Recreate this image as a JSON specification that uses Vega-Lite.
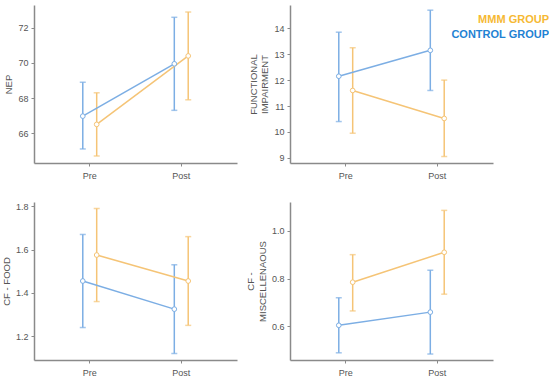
{
  "$schema": "https://vega.github.io/schema/vega-lite/v6.json",
  "padding": {"left": 1, "top": 5, "right": 0, "bottom": 0},
  "background": "white",
  "datasets": {
    "nep": [
      {"time": "Pre", "group": "CONTROL GROUP", "mean": 66.97, "lo": 65.1, "hi": 68.9},
      {"time": "Post", "group": "CONTROL GROUP", "mean": 69.95, "lo": 67.3, "hi": 72.6},
      {"time": "Pre", "group": "MMM GROUP", "mean": 66.5, "lo": 64.7, "hi": 68.3},
      {"time": "Post", "group": "MMM GROUP", "mean": 70.4, "lo": 67.9, "hi": 72.9}
    ],
    "fi": [
      {"time": "Pre", "group": "CONTROL GROUP", "mean": 12.15, "lo": 10.4, "hi": 13.85},
      {"time": "Post", "group": "CONTROL GROUP", "mean": 13.15, "lo": 11.6, "hi": 14.7},
      {"time": "Pre", "group": "MMM GROUP", "mean": 11.6, "lo": 9.95, "hi": 13.25},
      {"time": "Post", "group": "MMM GROUP", "mean": 10.52, "lo": 9.05, "hi": 12.0}
    ],
    "food": [
      {"time": "Pre", "group": "CONTROL GROUP", "mean": 1.455, "lo": 1.24, "hi": 1.67},
      {"time": "Post", "group": "CONTROL GROUP", "mean": 1.325, "lo": 1.12, "hi": 1.53},
      {"time": "Pre", "group": "MMM GROUP", "mean": 1.575, "lo": 1.36, "hi": 1.79},
      {"time": "Post", "group": "MMM GROUP", "mean": 1.455, "lo": 1.25, "hi": 1.66}
    ],
    "misc": [
      {"time": "Pre", "group": "CONTROL GROUP", "mean": 0.605, "lo": 0.49, "hi": 0.72},
      {"time": "Post", "group": "CONTROL GROUP", "mean": 0.66, "lo": 0.485, "hi": 0.835},
      {"time": "Pre", "group": "MMM GROUP", "mean": 0.785, "lo": 0.665, "hi": 0.90},
      {"time": "Post", "group": "MMM GROUP", "mean": 0.91, "lo": 0.735, "hi": 1.085}
    ]
  },
  "columns": 2,
  "spacing": {"column": 53, "row": 39},
  "bounds": "flush",
  "config": {
    "font": "Liberation Sans",
    "view": {"stroke": null},
    "axis": {
      "grid": false,
      "domainColor": "#8a8a8a",
      "domainWidth": 1.5,
      "tickColor": "#8a8a8a",
      "tickSize": 3,
      "labelColor": "#555555",
      "labelFontSize": 9,
      "titleColor": "#555555",
      "titleFontSize": 9.5,
      "titleFontWeight": "normal",
      "labelPadding": 3,
      "labelOverlap": false
    },
    "axisX": {"labelAngle": 0, "title": null, "labelPadding": 5},
    "legend": {
      "orient": "none",
      "legendX": 500,
      "legendY": 9,
      "symbolOpacity": 0,
      "symbolSize": 0,
      "symbolStrokeWidth": 0,
      "title": null,
      "labelFontSize": 11,
      "labelFont": "Liberation Sans",
      "labelFontWeight": "bold",
      "rowPadding": 3,
      "labelLimit": 200
    }
  },
  "concat": [
    {
      "data": {"name": "nep"},
      "width": 203, "height": 158,
      "encoding": {
        "x": {"field": "time", "type": "nominal", "sort": ["Pre", "Post"], "scale": {"type": "band", "paddingInner": 0.696, "paddingOuter": 0.457}},
        "xOffset": {"field": "group", "type": "nominal", "sort": ["CONTROL GROUP", "MMM GROUP"], "scale": {"padding": 0}},
        "color": {"field": "group", "type": "nominal", "scale": {"domain": ["MMM GROUP", "CONTROL GROUP"], "range": ["#f5c476", "#7caee4"]},
          "legend": {"labelAlign": "right", "encode": {"labels": {"update": {"fill": {"signal": "datum.label == 'MMM GROUP' ? '#f6b933' : '#1f82d3'"}}}}}}
      },
      "layer": [
        {"mark": {"type": "rule", "strokeWidth": 1.5}, "encoding": {"y": {"field": "lo", "type": "quantitative", "scale": {"domain": [64.3, 73.3], "nice": false, "zero": false}, "axis": {"values": [66, 68, 70, 72], "title": "NEP"}}, "y2": {"field": "hi"}}},
        {"mark": {"type": "tick", "thickness": 1.5, "size": 6}, "encoding": {"y": {"field": "lo", "type": "quantitative", "axis": {"values": [66, 68, 70, 72], "title": "NEP"}}}},
        {"mark": {"type": "tick", "thickness": 1.5, "size": 6}, "encoding": {"y": {"field": "hi", "type": "quantitative", "axis": {"values": [66, 68, 70, 72], "title": "NEP"}}}},
        {"mark": {"type": "line", "strokeWidth": 1.5}, "encoding": {"y": {"field": "mean", "type": "quantitative", "axis": {"values": [66, 68, 70, 72], "title": "NEP"}}, "detail": {"field": "group"}}},
        {"mark": {"type": "point", "filled": false, "fill": "white", "size": 22, "strokeWidth": 1, "opacity": 1}, "encoding": {"y": {"field": "mean", "type": "quantitative", "axis": {"values": [66, 68, 70, 72], "title": "NEP"}}}}
      ]
    },
    {
      "data": {"name": "fi"},
      "width": 203, "height": 158,
      "encoding": {
        "x": {"field": "time", "type": "nominal", "sort": ["Pre", "Post"], "scale": {"type": "band", "paddingInner": 0.696, "paddingOuter": 0.457}},
        "xOffset": {"field": "group", "type": "nominal", "sort": ["CONTROL GROUP", "MMM GROUP"], "scale": {"padding": 0}},
        "color": {"field": "group", "type": "nominal"}
      },
      "layer": [
        {"mark": {"type": "rule", "strokeWidth": 1.5}, "encoding": {"y": {"field": "lo", "type": "quantitative", "scale": {"domain": [8.8, 14.9], "nice": false, "zero": false}, "axis": {"values": [9, 10, 11, 12, 13, 14], "title": ["FUNCTIONAL", "IMPAIRMENT"]}}, "y2": {"field": "hi"}}},
        {"mark": {"type": "tick", "thickness": 1.5, "size": 6}, "encoding": {"y": {"field": "lo", "type": "quantitative", "axis": {"values": [9, 10, 11, 12, 13, 14], "title": ["FUNCTIONAL", "IMPAIRMENT"]}}}},
        {"mark": {"type": "tick", "thickness": 1.5, "size": 6}, "encoding": {"y": {"field": "hi", "type": "quantitative", "axis": {"values": [9, 10, 11, 12, 13, 14], "title": ["FUNCTIONAL", "IMPAIRMENT"]}}}},
        {"mark": {"type": "line", "strokeWidth": 1.5}, "encoding": {"y": {"field": "mean", "type": "quantitative", "axis": {"values": [9, 10, 11, 12, 13, 14], "title": ["FUNCTIONAL", "IMPAIRMENT"]}}, "detail": {"field": "group"}}},
        {"mark": {"type": "point", "filled": false, "fill": "white", "size": 22, "strokeWidth": 1, "opacity": 1}, "encoding": {"y": {"field": "mean", "type": "quantitative", "axis": {"values": [9, 10, 11, 12, 13, 14], "title": ["FUNCTIONAL", "IMPAIRMENT"]}}}}
      ]
    },
    {
      "data": {"name": "food"},
      "width": 203, "height": 158,
      "encoding": {
        "x": {"field": "time", "type": "nominal", "sort": ["Pre", "Post"], "scale": {"type": "band", "paddingInner": 0.696, "paddingOuter": 0.457}},
        "xOffset": {"field": "group", "type": "nominal", "sort": ["CONTROL GROUP", "MMM GROUP"], "scale": {"padding": 0}},
        "color": {"field": "group", "type": "nominal"}
      },
      "layer": [
        {"mark": {"type": "rule", "strokeWidth": 1.5}, "encoding": {"y": {"field": "lo", "type": "quantitative", "scale": {"domain": [1.09, 1.82], "nice": false, "zero": false}, "axis": {"values": [1.2, 1.4, 1.6, 1.8], "format": ".1f", "title": "CF - FOOD"}}, "y2": {"field": "hi"}}},
        {"mark": {"type": "tick", "thickness": 1.5, "size": 6}, "encoding": {"y": {"field": "lo", "type": "quantitative", "axis": {"values": [1.2, 1.4, 1.6, 1.8], "format": ".1f", "title": "CF - FOOD"}}}},
        {"mark": {"type": "tick", "thickness": 1.5, "size": 6}, "encoding": {"y": {"field": "hi", "type": "quantitative", "axis": {"values": [1.2, 1.4, 1.6, 1.8], "format": ".1f", "title": "CF - FOOD"}}}},
        {"mark": {"type": "line", "strokeWidth": 1.5}, "encoding": {"y": {"field": "mean", "type": "quantitative", "axis": {"values": [1.2, 1.4, 1.6, 1.8], "format": ".1f", "title": "CF - FOOD"}}, "detail": {"field": "group"}}},
        {"mark": {"type": "point", "filled": false, "fill": "white", "size": 22, "strokeWidth": 1, "opacity": 1}, "encoding": {"y": {"field": "mean", "type": "quantitative", "axis": {"values": [1.2, 1.4, 1.6, 1.8], "format": ".1f", "title": "CF - FOOD"}}}}
      ]
    },
    {
      "data": {"name": "misc"},
      "width": 203, "height": 158,
      "encoding": {
        "x": {"field": "time", "type": "nominal", "sort": ["Pre", "Post"], "scale": {"type": "band", "paddingInner": 0.696, "paddingOuter": 0.457}},
        "xOffset": {"field": "group", "type": "nominal", "sort": ["CONTROL GROUP", "MMM GROUP"], "scale": {"padding": 0}},
        "color": {"field": "group", "type": "nominal"}
      },
      "layer": [
        {"mark": {"type": "rule", "strokeWidth": 1.5}, "encoding": {"y": {"field": "lo", "type": "quantitative", "scale": {"domain": [0.46, 1.12], "nice": false, "zero": false}, "axis": {"values": [0.6, 0.8, 1.0], "format": ".1f", "title": ["CF -", "MISCELLENAOUS"]}}, "y2": {"field": "hi"}}},
        {"mark": {"type": "tick", "thickness": 1.5, "size": 6}, "encoding": {"y": {"field": "lo", "type": "quantitative", "axis": {"values": [0.6, 0.8, 1.0], "format": ".1f", "title": ["CF -", "MISCELLENAOUS"]}}}},
        {"mark": {"type": "tick", "thickness": 1.5, "size": 6}, "encoding": {"y": {"field": "hi", "type": "quantitative", "axis": {"values": [0.6, 0.8, 1.0], "format": ".1f", "title": ["CF -", "MISCELLENAOUS"]}}}},
        {"mark": {"type": "line", "strokeWidth": 1.5}, "encoding": {"y": {"field": "mean", "type": "quantitative", "axis": {"values": [0.6, 0.8, 1.0], "format": ".1f", "title": ["CF -", "MISCELLENAOUS"]}}, "detail": {"field": "group"}}},
        {"mark": {"type": "point", "filled": false, "fill": "white", "size": 22, "strokeWidth": 1, "opacity": 1}, "encoding": {"y": {"field": "mean", "type": "quantitative", "axis": {"values": [0.6, 0.8, 1.0], "format": ".1f", "title": ["CF -", "MISCELLENAOUS"]}}}}
      ]
    }
  ]
}
